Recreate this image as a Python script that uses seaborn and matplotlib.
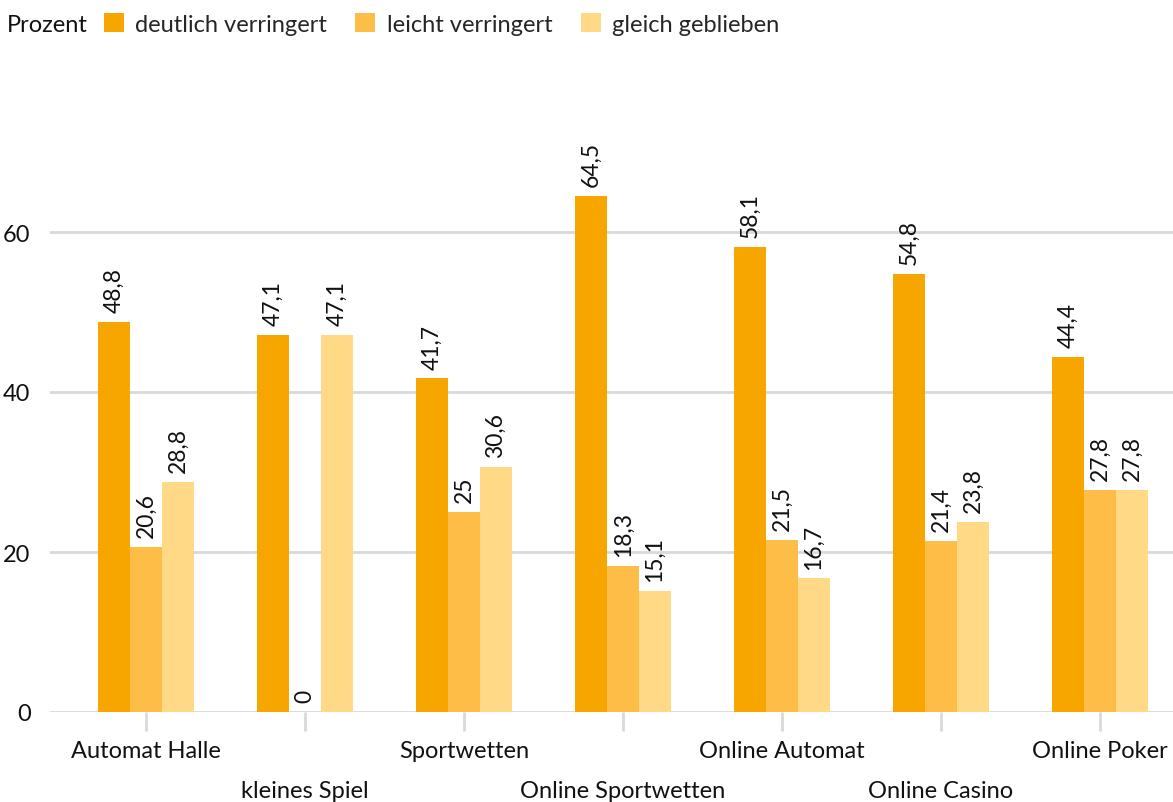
import matplotlib
matplotlib.use("Agg")
import matplotlib.pyplot as plt
import seaborn as sns
import pandas as pd
from matplotlib.patches import Patch

categories = ["Automat Halle", "kleines Spiel", "Sportwetten", "Online Sportwetten",
              "Online Automat", "Online Casino", "Online Poker"]
series_names = ["deutlich verringert", "leicht verringert", "gleich geblieben"]
deutlich = [48.8, 47.1, 41.7, 64.5, 58.1, 54.8, 44.4]
leicht = [20.6, 0.0, 25.0, 18.3, 21.5, 21.4, 27.8]
gleich = [28.8, 47.1, 30.6, 15.1, 16.7, 23.8, 27.8]
colors = ["#F7A600", "#FDBD46", "#FFD985"]
yticks = [0, 20, 40, 60]

rows = []
for name, vals in zip(series_names, [deutlich, leicht, gleich]):
    for c, v in zip(categories, vals):
        rows.append({"Kategorie": c, "Serie": name, "Wert": v})
df = pd.DataFrame(rows)

sns.set_theme(style="white")
plt.rcParams["font.family"] = ["Lato", "DejaVu Sans"]

FS = 17
fig = plt.figure(figsize=(11.73, 8.03), dpi=100)
ax = fig.add_axes([50 / 1173, 1 - 713 / 803, 1123 / 1173, (713 - 89) / 803])

sns.barplot(data=df, x="Kategorie", y="Wert", hue="Serie", order=categories,
            hue_order=series_names, palette=colors, width=0.6, gap=0,
            saturation=1, ax=ax, legend=False, linewidth=0, edgecolor="none")

for cont in ax.containers:
    labels = [("%g" % v).replace(".", ",") for v in cont.datavalues]
    ax.bar_label(cont, labels=labels, rotation=90, padding=7, fontsize=16.5, color="#111111")

ax.set_xlim(-0.604, 6.459)
ax.set_ylim(0, 78)
ax.set_yticks(yticks)
ax.set_yticklabels([str(t) for t in yticks], fontsize=FS, color="#111111")
ax.yaxis.grid(True, color="#d9d9d9", linewidth=2)
ax.set_axisbelow(True)
for s in ax.spines.values():
    s.set_visible(False)
ax.set_xlabel("")
ax.set_ylabel("")
ax.tick_params(axis="y", left=False, length=0, pad=14)
ax.tick_params(axis="x", bottom=True, direction="out", length=14, width=2, color="#d9d9d9", pad=0)
ax.set_xticks(range(len(categories)))
ax.set_xticklabels([])
for i, c in enumerate(categories):
    ax.annotate(c, xy=(i, 0), xycoords=("data", "axes fraction"),
                xytext=(0, -39 if i % 2 == 0 else -79), textcoords="offset pixels",
                ha="center", va="center", fontsize=FS, color="#111111")

fig.text(7 / 1173, 1 - 25 / 803, "Prozent", fontsize=FS, va="center", ha="left", color="#111111")
handles = [Patch(facecolor=c, edgecolor="none") for c in colors]
fig.legend(handles, series_names, loc="center left", bbox_to_anchor=(104 / 1173, 1 - 25 / 803),
           ncol=3, frameon=False, fontsize=FS, handlelength=0.85, handleheight=0.85,
           handletextpad=0.47, columnspacing=1.2, borderaxespad=0, borderpad=0)

fig.savefig("out.png", dpi=100)
